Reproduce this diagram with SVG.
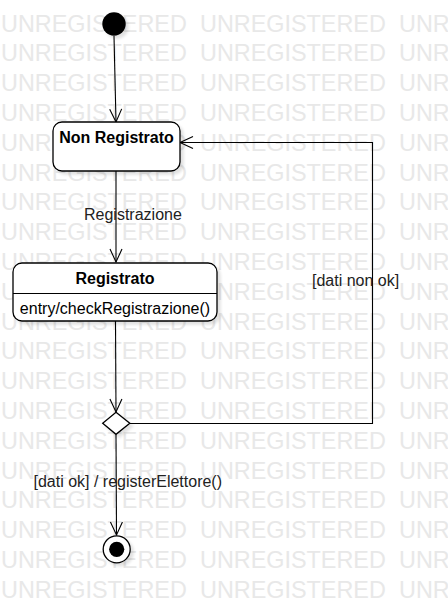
<svg xmlns="http://www.w3.org/2000/svg" width="448" height="613" viewBox="0 0 448 613">
<style>
.wm{font-family:"Liberation Sans",Arial,sans-serif;font-size:23.4px;fill:#e8e8e8}
.node{fill:#fff;stroke:#000;stroke-width:1.3}
.title{font-family:"Liberation Sans",Arial,sans-serif;font-size:16px;font-weight:bold;fill:#000;text-anchor:middle}
.body{font-family:"Liberation Sans",Arial,sans-serif;font-size:16px;fill:#000;text-anchor:middle}
.lbl{font-family:"Liberation Sans",Arial,sans-serif;font-size:16px;fill:#222}
.edge{fill:none;stroke:#000;stroke-width:1.1}
</style>
<defs>
<filter id="sh" x="-30%" y="-30%" width="160%" height="160%">
<feGaussianBlur in="SourceAlpha" stdDeviation="1.5"/>
<feOffset dx="3" dy="3" result="b"/>
<feComponentTransfer><feFuncA type="linear" slope="0.12"/></feComponentTransfer>
<feMerge><feMergeNode/><feMergeNode in="SourceGraphic"/></feMerge>
</filter>
<marker id="arr" markerUnits="userSpaceOnUse" markerWidth="16" markerHeight="16" refX="13" refY="6" orient="auto" overflow="visible">
<path d="M0,0 L13,6 L0,12" fill="none" stroke="#000" stroke-width="1.1"/>
</marker>
</defs>
<rect width="448" height="613" fill="#fff"/>
<g id="watermark">
<text class="wm" y="31.5"><tspan x="1">UNREGISTERED</tspan><tspan x="200">UNREGISTERED</tspan><tspan x="399">UNREGISTERED</tspan></text>
<text class="wm" y="61.3"><tspan x="1">UNREGISTERED</tspan><tspan x="200">UNREGISTERED</tspan><tspan x="399">UNREGISTERED</tspan></text>
<text class="wm" y="91.1"><tspan x="1">UNREGISTERED</tspan><tspan x="200">UNREGISTERED</tspan><tspan x="399">UNREGISTERED</tspan></text>
<text class="wm" y="120.9"><tspan x="1">UNREGISTERED</tspan><tspan x="200">UNREGISTERED</tspan><tspan x="399">UNREGISTERED</tspan></text>
<text class="wm" y="150.7"><tspan x="1">UNREGISTERED</tspan><tspan x="200">UNREGISTERED</tspan><tspan x="399">UNREGISTERED</tspan></text>
<text class="wm" y="180.5"><tspan x="1">UNREGISTERED</tspan><tspan x="200">UNREGISTERED</tspan><tspan x="399">UNREGISTERED</tspan></text>
<text class="wm" y="210.3"><tspan x="1">UNREGISTERED</tspan><tspan x="200">UNREGISTERED</tspan><tspan x="399">UNREGISTERED</tspan></text>
<text class="wm" y="240.1"><tspan x="1">UNREGISTERED</tspan><tspan x="200">UNREGISTERED</tspan><tspan x="399">UNREGISTERED</tspan></text>
<text class="wm" y="269.9"><tspan x="1">UNREGISTERED</tspan><tspan x="200">UNREGISTERED</tspan><tspan x="399">UNREGISTERED</tspan></text>
<text class="wm" y="299.7"><tspan x="1">UNREGISTERED</tspan><tspan x="200">UNREGISTERED</tspan><tspan x="399">UNREGISTERED</tspan></text>
<text class="wm" y="329.5"><tspan x="1">UNREGISTERED</tspan><tspan x="200">UNREGISTERED</tspan><tspan x="399">UNREGISTERED</tspan></text>
<text class="wm" y="359.3"><tspan x="1">UNREGISTERED</tspan><tspan x="200">UNREGISTERED</tspan><tspan x="399">UNREGISTERED</tspan></text>
<text class="wm" y="389.1"><tspan x="1">UNREGISTERED</tspan><tspan x="200">UNREGISTERED</tspan><tspan x="399">UNREGISTERED</tspan></text>
<text class="wm" y="418.9"><tspan x="1">UNREGISTERED</tspan><tspan x="200">UNREGISTERED</tspan><tspan x="399">UNREGISTERED</tspan></text>
<text class="wm" y="448.7"><tspan x="1">UNREGISTERED</tspan><tspan x="200">UNREGISTERED</tspan><tspan x="399">UNREGISTERED</tspan></text>
<text class="wm" y="478.5"><tspan x="1">UNREGISTERED</tspan><tspan x="200">UNREGISTERED</tspan><tspan x="399">UNREGISTERED</tspan></text>
<text class="wm" y="508.3"><tspan x="1">UNREGISTERED</tspan><tspan x="200">UNREGISTERED</tspan><tspan x="399">UNREGISTERED</tspan></text>
<text class="wm" y="538.1"><tspan x="1">UNREGISTERED</tspan><tspan x="200">UNREGISTERED</tspan><tspan x="399">UNREGISTERED</tspan></text>
<text class="wm" y="567.9"><tspan x="1">UNREGISTERED</tspan><tspan x="200">UNREGISTERED</tspan><tspan x="399">UNREGISTERED</tspan></text>
<text class="wm" y="597.7"><tspan x="1">UNREGISTERED</tspan><tspan x="200">UNREGISTERED</tspan><tspan x="399">UNREGISTERED</tspan></text>
</g>
<g id="connectors">
<path class="edge" d="M114,36 L116,122" marker-end="url(#arr)"/>
<path class="edge" d="M116,171 L116,262" marker-end="url(#arr)"/>
<text class="lbl" x="84" y="219.5">Registrazione</text>
<path class="edge" d="M115.5,321 L116,412" marker-end="url(#arr)"/>
<path class="edge" d="M130,423.5 L372.5,423.5 L372.5,142.5 L180,142.5" marker-end="url(#arr)"/>
<text class="lbl" x="312" y="286">[dati non ok]</text>
<path class="edge" d="M116,434.5 L116.5,535" marker-end="url(#arr)"/>
<text class="lbl" x="33.5" y="486.5">[dati ok] / registerElettore()</text>
</g>
<g id="initial">
<circle cx="114" cy="24" r="11.7" fill="#000" filter="url(#sh)"/>
</g>
<g id="nonRegistrato">
<rect class="node" x="53" y="122" width="127" height="49" rx="9" filter="url(#sh)"/>
<text class="title" x="116.5" y="142.5">Non Registrato</text>
</g>
<g id="registrato">
<rect class="node" x="13" y="263" width="204" height="58" rx="9" filter="url(#sh)"/>
<line x1="13" y1="293.5" x2="217" y2="293.5" stroke="#000" stroke-width="1.1"/>
<text class="title" x="115" y="283.5">Registrato</text>
<text class="body" x="115" y="313.5">entry/checkRegistrazione()</text>
</g>
<g id="decision">
<path class="node" d="M116,412.3 L129.8,423.3 L116,434.3 L102.7,423.3 Z" filter="url(#sh)"/>
</g>
<g id="final">
<circle class="node" cx="116.7" cy="549.3" r="13.5" filter="url(#sh)"/>
<circle cx="116.7" cy="549.3" r="7.6" fill="#000"/>
</g>
</svg>
